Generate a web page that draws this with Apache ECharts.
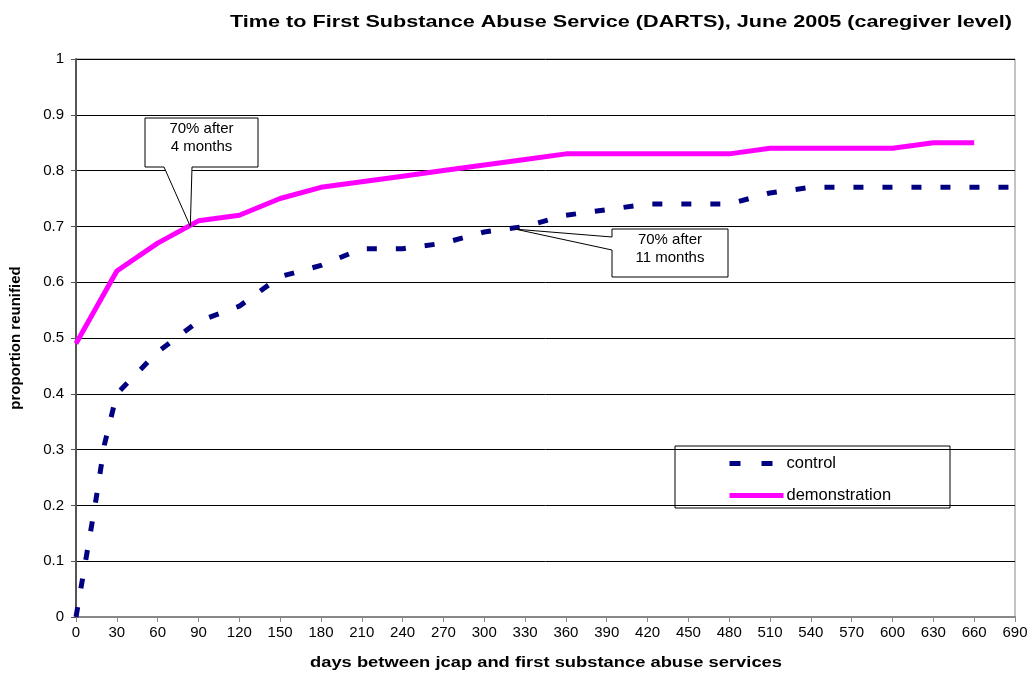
<!DOCTYPE html>
<html><head><meta charset="utf-8">
<script src="https://cdn.jsdelivr.net/npm/echarts@6/dist/echarts.min.js"></script>
<style>html,body{margin:0;padding:0;background:#fff}#c{width:1032px;height:675px}</style>
</head><body><div id="c"></div>
<script>
const titleText = 'Time to First Substance Abuse Service (DARTS), June 2005 (caregiver level)';
const xAxisName = 'days between jcap and first substance abuse services';
const yAxisName = 'proportion reunified';
const controlDays = [0,7,14,21,30,60,90,120,150,180,210,240,270,300,330,360,390,420,450,480,510,540,570,600,630,660,690];
const controlVals = [0,0.10,0.20,0.31,0.40,0.475,0.53,0.557,0.61,0.63,0.66,0.66,0.67,0.69,0.70,0.72,0.73,0.74,0.74,0.74,0.76,0.77,0.77,0.77,0.77,0.77,0.77];
const demoDays = [0,30,60,90,120,150,180,210,240,270,300,330,360,390,420,450,480,510,540,570,600,630,660];
const demoVals = [0.49,0.62,0.67,0.71,0.72,0.75,0.77,0.78,0.79,0.80,0.81,0.82,0.83,0.83,0.83,0.83,0.83,0.84,0.84,0.84,0.84,0.85,0.85];
const annot1 = {text:'70% after\n4 months', at:[84,0.70]};
const annot2 = {text:'70% after\n11 months', at:[323,0.695]};

const FONT = 'Liberation Sans, Arial, sans-serif';
const mctx = document.createElement('canvas').getContext('2d');
function fitScale(text, font, target){ mctx.font = font; return target / mctx.measureText(text).width; }
const titleFont = 'bold 17px ' + FONT;
const xNameFont = 'bold 15px ' + FONT;

const chart = echarts.init(document.getElementById('c'), null, {renderer:'canvas'});
chart.setOption({
  animation:false,
  backgroundColor:'#fff',
  grid:{left:75, right:17, top:59, bottom:58, show:true, borderColor:'#888', borderWidth:1},
  legend:{
    orient:'vertical', left:727, top:455,
    padding:0, itemGap:15, itemWidth:54, itemHeight:14,
    textStyle:{fontFamily:FONT, fontSize:16.5, color:'#000', padding:[0,0,0,-2]},
    itemStyle:{color:'rgba(0,0,0,0)', borderColor:'rgba(0,0,0,0)', borderWidth:0},
    data:[
      {name:'control', lineStyle:{type:[11,21], width:5}},
      {name:'demonstration', lineStyle:{width:5}}
    ]
  },
  xAxis:{
    type:'value', min:0, max:690, interval:30,
    axisLine:{lineStyle:{color:'#888', width:2}},
    axisTick:{show:true, length:5, lineStyle:{color:'#888'}},
    axisLabel:{fontFamily:FONT, fontSize:15, color:'#000', margin:8},
    splitLine:{show:false}
  },
  yAxis:{
    type:'value', min:0, max:1, interval:0.1,
    name:yAxisName, nameLocation:'middle', nameGap:53, nameRotate:90,
    nameTextStyle:{fontFamily:FONT, fontSize:15, fontWeight:'bold', color:'#000'},
    axisLine:{show:true, lineStyle:{color:'#555', width:2}},
    axisTick:{show:true, length:5, lineStyle:{color:'#555'}},
    axisLabel:{fontFamily:FONT, fontSize:15, color:'#000', margin:12},
    splitLine:{show:true, lineStyle:{color:'#000', width:1}}
  },
  series:[
    {name:'control', type:'line', showSymbol:false, symbol:'none',
     data:controlDays.map((d,i)=>[d,controlVals[i]]),
     lineStyle:{color:'#000080', width:5, type:[10,19], cap:'butt'}, itemStyle:{color:'#000080'}, z:3},
    {name:'demonstration', type:'line', showSymbol:false, symbol:'none',
     data:demoDays.map((d,i)=>[d,demoVals[i]]),
     lineStyle:{color:'#ff00ff', width:5}, itemStyle:{color:'#ff00ff'}, z:4}
  ]
});

const p1 = chart.convertToPixel({gridIndex:0}, annot1.at);
const p2 = chart.convertToPixel({gridIndex:0}, annot2.at);
const b1 = {x1:145, y1:118, x2:258, y2:167};
const b2 = {x1:612, y1:229, x2:728, y2:277};
const annFont = '15px ' + FONT;
chart.setOption({graphic:[
  {type:'text', z:101, x:230, y:22, scaleX:fitScale(titleText, titleFont, 782), originX:0,
   style:{text:titleText, fill:'#000', font:titleFont, align:'left', verticalAlign:'middle'}},
  {type:'text', z:101, x:546, y:663, scaleX:fitScale(xAxisName, xNameFont, 472), originX:0,
   style:{text:xAxisName, fill:'#000', font:xNameFont, align:'center', verticalAlign:'middle'}},
  {type:'rect', z:90, shape:{x:675, y:446, width:275, height:62},
   style:{fill:'rgba(255,255,255,0)', stroke:'#000', lineWidth:1}},
  {type:'polygon', z:100, shape:{points:[[b1.x1,b1.y1],[b1.x2,b1.y1],[b1.x2,b1.y2],[192,b1.y2],p1,[164,b1.y2],[b1.x1,b1.y2]]},
   style:{fill:'#fff', stroke:'#000', lineWidth:1}},
  {type:'text', z:101, x:(b1.x1+b1.x2)/2, y:120, style:{text:annot1.text, fill:'#000', font:annFont, align:'center', verticalAlign:'top', lineHeight:18}},
  {type:'polygon', z:100, shape:{points:[[b2.x1,b2.y1],[b2.x2,b2.y1],[b2.x2,b2.y2],[b2.x1,b2.y2],[b2.x1,250],p2,[b2.x1,237]]},
   style:{fill:'#fff', stroke:'#000', lineWidth:1}},
  {type:'text', z:101, x:(b2.x1+b2.x2)/2, y:231, style:{text:annot2.text, fill:'#000', font:annFont, align:'center', verticalAlign:'top', lineHeight:18}}
]});
</script></body></html>
